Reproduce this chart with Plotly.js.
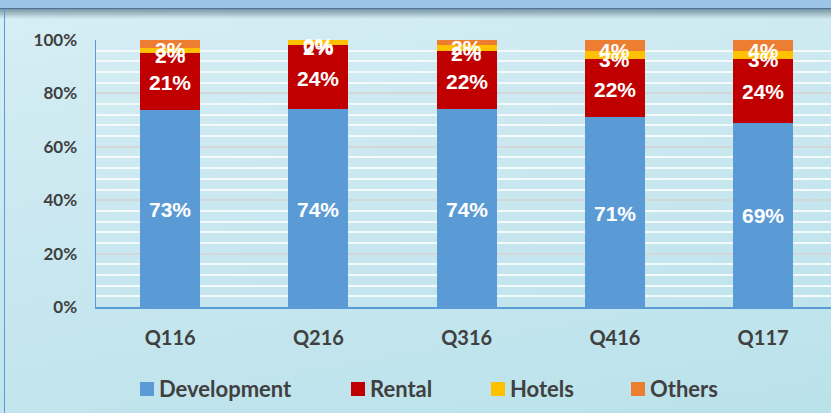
<!DOCTYPE html>
<html>
<head>
<meta charset="utf-8">
<script src="https://cdn.plot.ly/plotly-3.0.1.min.js"></script>
<style>
  html, body { margin:0; padding:0; width:831px; height:413px; overflow:hidden; }
  body { background: linear-gradient(170deg, #d7eef5 0%, #cbe8f0 40%, #bae2eb 100%); position:relative; }
  #hdr { position:absolute; left:0; top:0; width:831px; height:8px; background:#9dc3e6; border-bottom:1px solid #4f7396; }
  #shadow { position:absolute; left:0; top:9px; width:831px; height:10px; background:linear-gradient(180deg, rgba(60,90,110,0.6), rgba(60,90,110,0)); }
  #lline { position:absolute; left:4px; top:9px; width:1px; height:404px; background:#5b9bd5; }
  #chart { position:absolute; left:0; top:0; width:831px; height:413px; }
</style>
</head>
<body>
<div id="hdr"></div>
<div id="shadow"></div>
<div id="lline"></div>
<div id="chart"></div>
<script>
const quarters = ['Q116', 'Q216', 'Q316', 'Q416', 'Q117'];
const development = [73, 74, 74, 71, 69];
const rental = [21, 24, 22, 22, 24];
const hotels = [2, 2, 2, 3, 3];
const others = [3, 0, 2, 4, 4];
const seriesNames = ['Development', 'Rental', 'Hotels', 'Others'];
const seriesColors = ['#5b9bd5', '#c00000', '#ffc000', '#ed7d31'];

const allSeries = [development, rental, hotels, others];
const labelFont = "'Liberation Sans Narrow', 'Arial Narrow', 'Liberation Sans', Arial, sans-serif";
const axisFont = "Lato, 'Open Sans', sans-serif";

const traces = allSeries.map((vals, i) => ({
  type: 'bar',
  name: seriesNames[i],
  x: quarters,
  y: vals,
  marker: { color: seriesColors[i] },
  width: 0.405,
  hoverinfo: 'x+y+name',
  showlegend: false
}));

// Labels: centered within each segment, normalised like a 100% stacked chart
const annotations = [];
quarters.forEach((q, qi) => {
  const total = allSeries.reduce((s, arr) => s + arr[qi], 0);
  let cum = 0;
  allSeries.forEach((arr, si) => {
    const v = arr[qi];
    const mid = (cum + v / 2) / total * 100;
    cum += v;
    annotations.push({
      x: q, y: mid, xref: 'x', yref: 'y',
      text: v + '%', showarrow: false,
      font: { family: labelFont, size: 21, color: '#ffffff', weight: 'bold' },
      yshift: si >= 2 ? -5 : -1
    });
  });
});

// Manual legend (paper coordinates)
const shapes = [];
const legendX = [140, 351, 491, 631];
const pxToPaperX = px => (px - 96) / 735;
const pxToPaperY = py => (307 - py) / 267;
seriesNames.forEach((n, i) => {
  shapes.push({
    type: 'rect', xref: 'paper', yref: 'paper',
    x0: pxToPaperX(legendX[i]), x1: pxToPaperX(legendX[i] + 14),
    y0: pxToPaperY(396), y1: pxToPaperY(382),
    fillcolor: seriesColors[i], line: { width: 0 }
  });
  annotations.push({
    xref: 'paper', yref: 'paper',
    x: pxToPaperX(legendX[i] + 17), y: pxToPaperY(389),
    xanchor: 'left', yanchor: 'middle',
    text: n, showarrow: false,
    font: { family: axisFont, size: 22, color: '#404040', weight: 'bold' }
  });
});

const layout = {
  width: 831, height: 413,
  margin: { l: 96, r: 0, t: 40, b: 106 },
  paper_bgcolor: 'rgba(0,0,0,0)',
  plot_bgcolor: 'rgba(0,0,0,0)',
  barmode: 'stack',
  barnorm: 'percent',
  showlegend: false,
  xaxis: {
    range: [-0.5, 4.458],
    showgrid: false,
    showline: true, linecolor: '#5b9bd5', linewidth: 2,
    ticks: '', ticklabelstandoff: 12,
    tickfont: { family: axisFont, size: 20, color: '#404040', weight: 'bold' },
    fixedrange: true
  },
  yaxis: {
    range: [0, 100],
    dtick: 20,
    ticksuffix: '%',
    showgrid: true, gridcolor: '#d3d7da', gridwidth: 2,
    minor: { dtick: 4, showgrid: true, gridcolor: '#f4f9fb', gridwidth: 2 },
    showline: true, linecolor: '#5b9bd5', linewidth: 1.5,
    zeroline: false,
    ticks: '', ticklabelstandoff: 14,
    tickfont: { family: axisFont, size: 17, color: '#404040', weight: 'bold' },
    fixedrange: true
  },
  annotations: annotations,
  shapes: shapes
};

Plotly.newPlot('chart', traces, layout, { displayModeBar: false, staticPlot: true });
</script>
</body>
</html>
